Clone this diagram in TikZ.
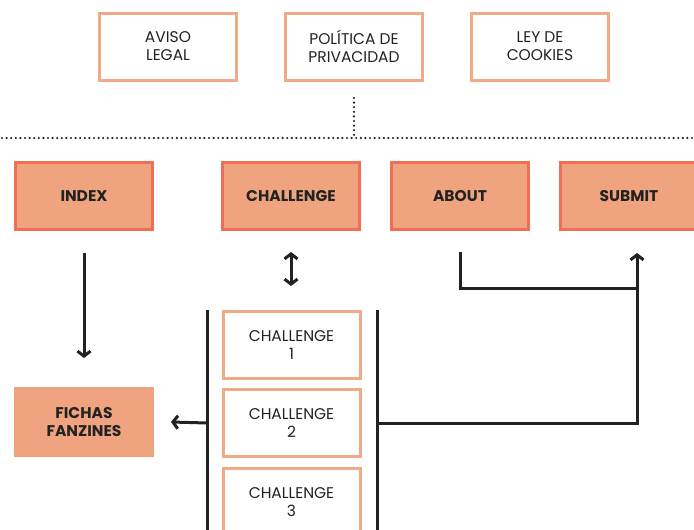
\documentclass[tikz,border=0pt]{standalone}
\usepackage{fontspec}
\setmainfont{Poppins}
\usetikzlibrary{arrows.meta}

\definecolor{salmon}{HTML}{EFA47F}
\definecolor{salmonline}{HTML}{F2A987}
\definecolor{redline}{HTML}{EE6F55}
\definecolor{ink}{HTML}{222222}

\begin{document}
\begin{tikzpicture}[x=1pt,y=-1pt,
    page/.style={draw=salmonline,line width=3pt,fill=white,minimum width=137pt,minimum height=67pt,
        align=center,text=ink,font=\fontsize{15.5}{18}\selectfont},
    mainpage/.style={draw=redline,line width=3pt,fill=salmon,minimum width=137pt,minimum height=67pt,
        align=center,text=ink,font=\fontsize{15.5}{18}\selectfont\bfseries},
    link/.style={draw=ink,line width=3pt,arrows={-Straight Barb[length=5pt,width=13pt]}}]
            \clip (0,0) rectangle (694,530);
            \fill[white] (0,0) rectangle (694,530);

            % legal pages
            \node[page] (aviso) at (168, 46.5) {AVISO\\LEGAL};
            \node[page] (politica) at (354, 46.5) {POLÍTICA DE\\PRIVACIDAD};
            \node[page] (cookies) at (540, 46.5) {LEY DE\\COOKIES};

            \coordinate (dotstop) at (354, 98);
            \coordinate (lineleft) at (2, 138);
            \coordinate (lineright) at (694, 138);
            \draw[ink,line width=2.4pt,line cap=round,dash pattern=on 0pt off 4.6pt] (dotstop) -- (dotstop |- lineleft);
            \draw[ink,line width=2.4pt,line cap=round,dash pattern=on 0pt off 4.6pt] (lineleft) -- (lineright);

            % main menu
            \node[mainpage] (index) at (84, 196) {INDEX};
            \node[mainpage] (challenge) at (291, 196) {CHALLENGE};
            \node[mainpage] (about) at (460, 196) {ABOUT};
            \node[mainpage] (submit) at (629, 196) {SUBMIT};

            \node[mainpage,draw=salmon] (fichas) at (84, 422) {FICHAS\\FANZINES};

            \node[page] (ch1) at (291.5, 345) {CHALLENGE\\1};
            \node[page] (ch2) at (291.5, 423) {CHALLENGE\\2};
            \node[page] (ch3) at (291.5, 502) {CHALLENGE\\3};

            % rails round the challenges
            \coordinate (railLtop) at (207, 310);
            \coordinate (railRtop) at (377, 310);
            \coordinate (railL) at (207, 423);
            \coordinate (railR) at (377, 423);
            \draw[ink,line width=3pt] (railLtop) -- ++(0,225);
            \draw[ink,line width=3pt] (railRtop) -- ++(0,225);

            \draw[link] ([yshift=-22pt]index.south) -- ([yshift=-127pt]index.south);
            \draw[link,arrows={Straight Barb[length=5pt,width=13pt]-Straight Barb[length=5pt,width=13pt]}]
                ([yshift=-21pt]challenge.south) -- ([yshift=-55pt]challenge.south);
            \draw[link] (railL) -- ([xshift=17pt]fichas.east);

            \coordinate (join) at (637, 288);
            \draw[link,arrows=-] ([yshift=-21pt]about.south) |- (join);
            \draw[link] (join) -- ([xshift=8pt,yshift=-22pt]submit.south);
            \draw[link,arrows=-,line join=miter] (join) |- (railR);
        \end{tikzpicture}
\end{document}
